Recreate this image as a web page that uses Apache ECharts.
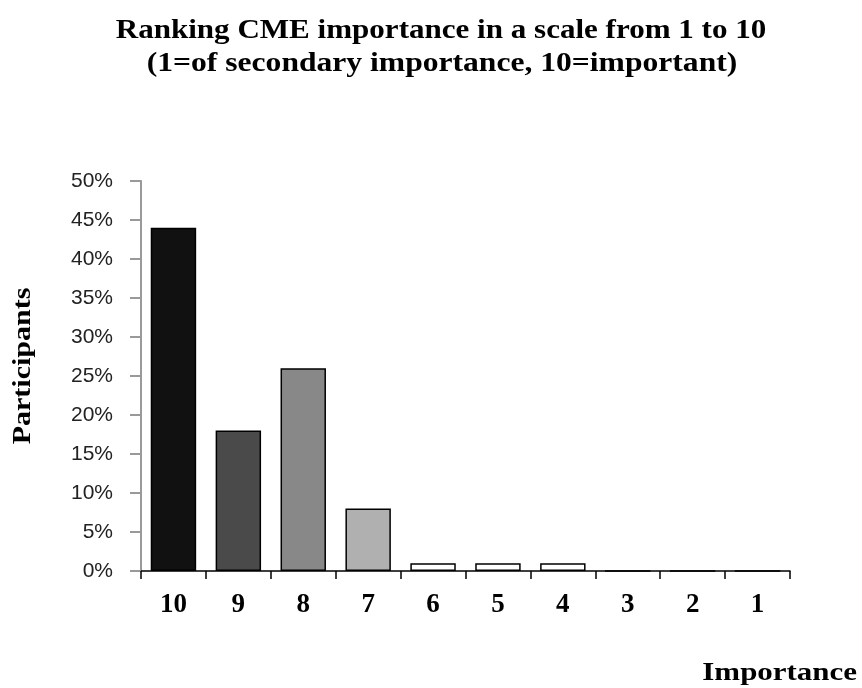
<!DOCTYPE html>
<html><head><meta charset="utf-8">
<script src="https://cdn.jsdelivr.net/npm/echarts@6/dist/echarts.min.js"></script>
<style>html,body{margin:0;padding:0;background:#fff}#c{width:862px;height:688px}</style>
</head><body><div id="c"></div>
<script>
const categories = ['10','9','8','7','6','5','4','3','2','1'];
const values = [44, 18, 26, 8, 1, 1, 1, 0, 0, 0];
const barColors = ['#111111','#4a4a4a','#888888','#b0b0b0','#ffffff','#ffffff','#ffffff','#ffffff','#ffffff','#ffffff'];
const titleLine1 = 'Ranking CME importance in a scale from 1 to 10';
const titleLine2 = '(1=of secondary importance, 10=important)';
const xName = 'Importance';
const yName = 'Participants';
const serif = '"Liberation Serif","Times New Roman",serif';
function txt(text, x, y, size, opts){
  return Object.assign({type:'text', x:x, y:y, silent:true,
    style:{text:text, fontFamily:serif, fontWeight:'bold', fontSize:size, fill:'#000',
      align:'center', verticalAlign:'middle'}}, opts||{});
}
const chart = echarts.init(document.getElementById('c'), null, {renderer:'canvas'});
chart.setOption({
  animation:false,
  backgroundColor:'#fff',
  graphic:[
    txt(titleLine1, 441, 31, 27, {scaleX:1.15}),
    txt(titleLine2, 442, 64, 27, {scaleX:1.17}),
    txt(yName, 24, 366, 25, {rotation:Math.PI/2, scaleX:1.2}),
    (function(){const t=txt(xName, 857, 673, 26, {scaleX:1.19}); t.style.align='right'; return t;})()
  ],
  grid:{left:141,right:72,top:181,bottom:117},
  xAxis:{type:'category',data:categories,
    axisLine:{lineStyle:{color:'#000',width:1.5}},
    axisTick:{show:true,alignWithLabel:false,length:8,inside:false,lineStyle:{color:'#000',width:1.5}},
    axisLabel:{fontFamily:serif,fontWeight:'bold',fontSize:27,color:'#000',margin:21}},
  yAxis:{type:'value',min:0,max:50,interval:5,
    axisLine:{show:true,lineStyle:{color:'#999',width:2}},
    axisTick:{show:true,length:11,lineStyle:{color:'#999',width:2}},
    splitLine:{show:false},
    axisLabel:{formatter:'{value}%',fontFamily:'"Liberation Sans",Arial,sans-serif',fontSize:21,color:'#222',margin:28}},
  series:[{type:'bar',barWidth:'70%',
    data:values.map((v,i)=>({value:v,itemStyle:{color:barColors[i]}})),
    itemStyle:{borderColor:'#000',borderWidth:1.5}}]
});
</script></body></html>
